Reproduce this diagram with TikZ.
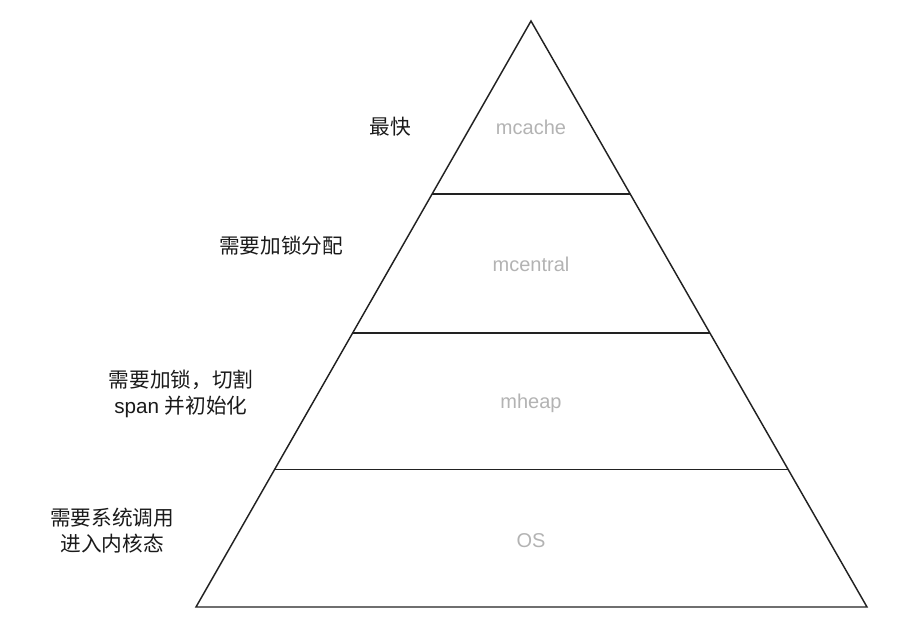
\documentclass[tikz,border=0pt]{standalone}
\usepackage{fontspec}
\usetikzlibrary{calc}
\setmainfont{Liberation Sans}
\newfontfamily\cjk{Noto Sans CJK SC}
\definecolor{edge}{HTML}{222222}
\definecolor{soft}{HTML}{B3B3B3}
\definecolor{ink}{HTML}{1A1A1A}
\begin{document}
\begin{tikzpicture}[x=0.75pt,y=-0.75pt,
  tier/.style={draw=edge,line width=1.1pt,line join=miter},
  layername/.style={text=soft,font=\fontsize{15}{18}\selectfont},
  note/.style={text=ink,align=center,font=\fontsize{15.5}{19.5}\selectfont}]
\useasboundingbox (0,0) rectangle (910,640);
\coordinate (apex) at (531,21);
\coordinate (bl) at (196,607);
\coordinate (br) at (867,607);
\draw[tier] (apex) -- (br) -- (bl) -- cycle;
\coordinate (l1) at ($(apex)!0.295!(bl)$);
\coordinate (r1) at ($(apex)!0.295!(br)$);
\coordinate (l2) at ($(apex)!0.5325!(bl)$);
\coordinate (r2) at ($(apex)!0.5325!(br)$);
\coordinate (l3) at ($(apex)!0.7649!(bl)$);
\coordinate (r3) at ($(apex)!0.7649!(br)$);
\draw[tier] (l1) -- (r1);
\draw[tier] (l2) -- (r2);
\draw[tier] (l3) -- (r3);
\node[layername] (mcache) at (531,127) {mcache};
\node[layername] (mcentral) at (531,264) {mcentral};
\node[layername] (mheap) at (531,403) {mheap};
\node[layername] (os) at (531,541) {OS};
\node[note] (n1) at (390,127) {\cjk 最快};
\node[note] (n2) at (281,246) {\cjk 需要加锁分配};
\node[note] (n3) at (181,394) {{\cjk 需要加锁，切割}\\span {\cjk 并初始化}};
\node[note] (n4) at (112,531) {{\cjk 需要系统调用}\\{\cjk 进入内核态}};
\end{tikzpicture}
\end{document}
